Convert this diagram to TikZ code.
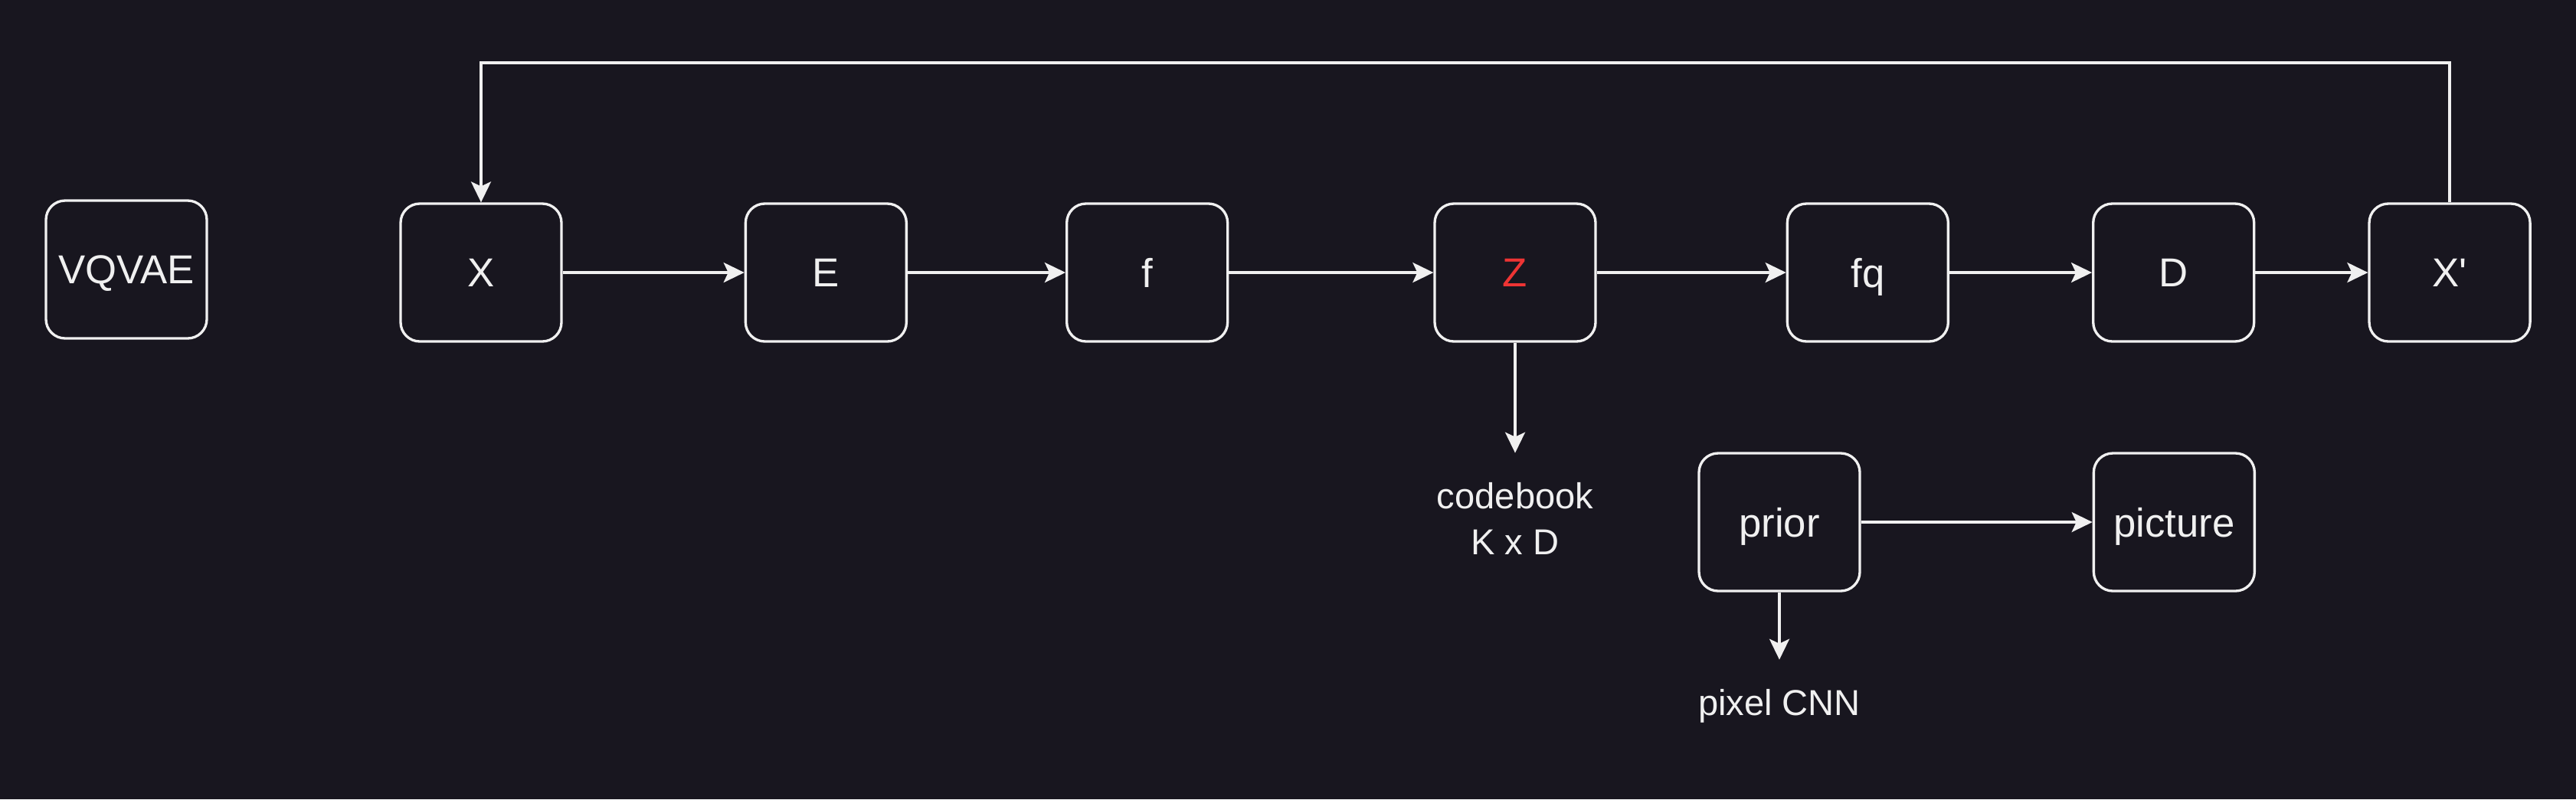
\documentclass[tikz,border=0pt]{standalone}
\usepackage{fontspec}
\setmainfont{Liberation Sans}[Ligatures=TeXOff]
\usetikzlibrary{positioning,arrows.meta}
\definecolor{bgdark}{RGB}{24,22,31}
\definecolor{fgwhite}{RGB}{240,240,240}
\definecolor{zred}{RGB}{238,52,52}

\begin{document}
\begin{tikzpicture}[every node/.style={text=fgwhite},
  box/.style={draw=fgwhite, line width=0.95pt, rounded corners=0.25cm, minimum width=2.1cm, minimum height=1.8cm, text depth=0pt, font=\fontsize{15}{18}\selectfont},
  lbl/.style={inner xsep=0pt, inner ysep=0.38cm, align=center, font=\fontsize{13.4}{17}\selectfont},
  arr/.style={-{Stealth[length=0.27cm, width=0.26cm, inset=0.06cm]}, line width=0.95pt, draw=fgwhite}]
\fill[bgdark] (0,0) rectangle (33.63,-10.44);
\useasboundingbox (0,0) rectangle (33.63,-10.44);
\node[box] (vqvae) at (1.65,-3.52) {VQVAE};
\node[box] (x) at (6.28,-3.56) {X};
\node[box, right=2.37cm of x] (enc) {E};
\node[box, right=2.06cm of enc] (f) {f};
\node[box, right=2.67cm of f, text=zred] (z) {Z};
\node[box, right=2.47cm of z] (fq) {fq};
\node[box, right=1.86cm of fq] (dec) {D};
\node[box, right=1.47cm of dec] (xrec) {X'};
\node[box] (prior) at (23.23,-6.82) {prior};
\node[box, right=3.02cm of prior] (picture) {picture};
\node[lbl, below=1.44cm of z] (codebook) {codebook\\K x D};
\node[lbl, below=0.88cm of prior] (pixelcnn) {pixel CNN};
\coordinate (top) at (0,-0.82);
\foreach \a/\b in {x/enc, enc/f, f/z, z/fq, fq/dec, dec/xrec, prior/picture, z/codebook, prior/pixelcnn} \draw[arr] (\a) -- (\b);
\draw[arr] (xrec.north) -- (xrec.north |- top) -- (x.north |- top) -- (x.north);
\end{tikzpicture}
\end{document}
